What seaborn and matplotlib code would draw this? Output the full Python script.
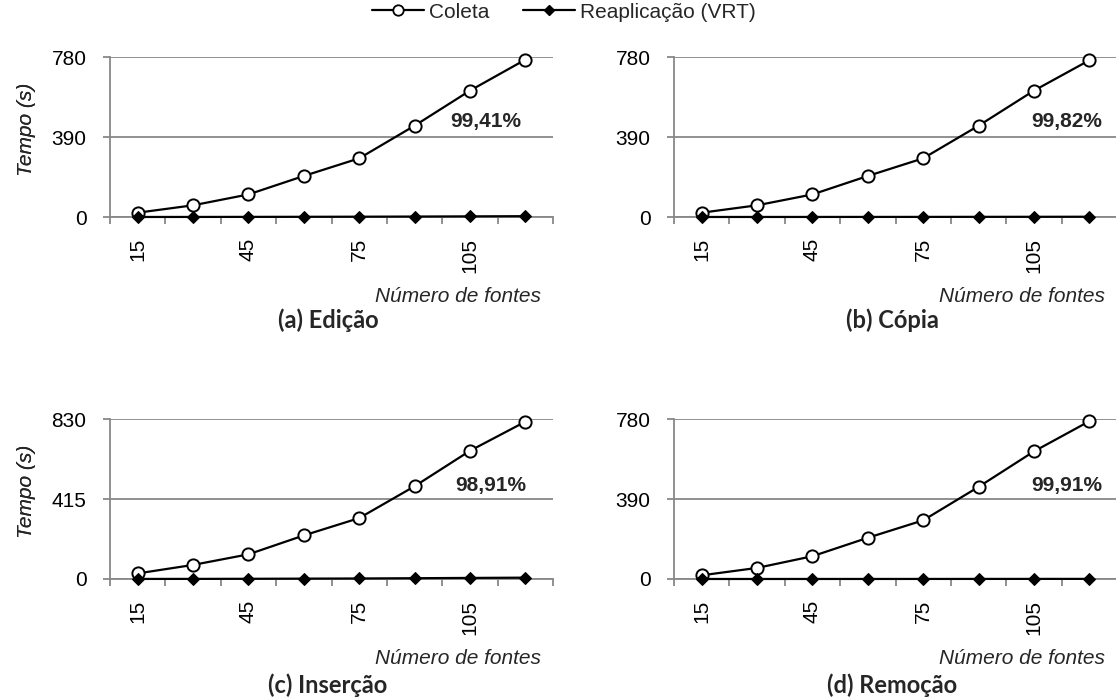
import matplotlib
matplotlib.use("Agg")
import matplotlib.pyplot as plt
import seaborn as sns
import pandas as pd
import numpy as np
from matplotlib.lines import Line2D

# number of sources on the x axis
fontes = [15, 30, 45, 60, 75, 90, 105, 120]

# time (s) per scenario
coleta_edicao = [21, 57, 110, 200, 286, 445, 616, 767]
vrt_edicao = [0.1, 0.3, 0.6, 1.0, 1.5, 2.2, 3.1, 4.0]
coleta_copia = [21, 57, 110, 200, 286, 445, 616, 764]
vrt_copia = [0.1, 0.2, 0.3, 0.4, 0.5, 0.8, 1.0, 1.3]
coleta_insercao = [29, 73, 128, 226, 316, 481, 665, 816]
vrt_insercao = [0.3, 0.6, 1.1, 1.9, 2.7, 4.1, 5.6, 7.0]
coleta_remocao = [18, 54, 111, 201, 286, 449, 622, 769]
vrt_remocao = [0.1, 0.1, 0.2, 0.2, 0.3, 0.4, 0.5, 0.6]

titulos = ["(a) Edição", "(b) Cópia", "(c) Inserção", "(d) Remoção"]
percentuais = ["99,41%", "99,82%", "98,91%", "99,91%"]
ymax = [780, 780, 830, 780]
rotulos_x = [15, 45, 75, 105]

sns.set_style("white")
plt.rcParams["font.family"] = ["Liberation Sans", "DejaVu Sans"]

GRID = "#888888"
FS = 15
W, H = 1116, 700
fig = plt.figure(figsize=(W / 100, H / 100), dpi=100)

# axes boxes in pixels: left, top, right, bottom
boxes = [(110, 57, 553, 217), (674, 57, 1117, 217),
         (110, 419, 553, 579), (674, 419, 1117, 579)]
title_pos = [(328, 320), (892, 320), (328, 685), (892, 685)]
pct_pos = [(486, 122), (1067, 122), (491, 485), (1067, 486)]

series = [(coleta_edicao, vrt_edicao), (coleta_copia, vrt_copia),
          (coleta_insercao, vrt_insercao), (coleta_remocao, vrt_remocao)]

for i, (l, t, r, b) in enumerate(boxes):
    ax = fig.add_axes([l / W, 1 - b / H, (r - l) / W, (b - t) / H])
    coleta, vrt = series[i]
    df = pd.DataFrame({"fontes": fontes, "coleta": coleta, "vrt": vrt})
    sns.lineplot(data=df, x="fontes", y="coleta", ax=ax, color="black",
                 linewidth=1.6, marker="o", markersize=8.8,
                 markerfacecolor="white", markeredgecolor="black",
                 markeredgewidth=1.4, clip_on=False, zorder=4)
    sns.lineplot(data=df, x="fontes", y="vrt", ax=ax, color="black",
                 linewidth=1.6, marker="D", markersize=6,
                 markerfacecolor="black", markeredgecolor="black",
                 clip_on=False, zorder=5)

    ax.set_xlim(7.5, 127.5)
    ax.set_ylim(0, ymax[i])
    ax.set_yticks([0, ymax[i] / 2, ymax[i]])
    ax.set_yticklabels([str(v) for v in [0, ymax[i] // 2, ymax[i]]])
    ax.set_xticks(rotulos_x)
    ax.set_xticklabels([str(v) for v in rotulos_x], rotation=90)
    ax.set_xticks(np.arange(7.5, 128, 15), minor=True)
    ax.tick_params(axis="x", which="major", length=0, pad=15,
                   labelsize=FS, colors="black")
    ax.tick_params(axis="x", which="minor", length=5, width=1.3,
                   color=GRID, direction="out", bottom=True)
    ax.tick_params(axis="y", length=5, width=1.3, color=GRID,
                   direction="out", left=True, pad=12, labelsize=FS,
                   labelcolor="black")
    ax.grid(axis="y", color=GRID, linewidth=1.3)
    ax.set_axisbelow(True)
    for s in ["top", "right"]:
        ax.spines[s].set_visible(False)
    for s in ["left", "bottom"]:
        ax.spines[s].set_color(GRID)
        ax.spines[s].set_linewidth(1.3)
    ax.set_xlabel("")
    ax.set_ylabel("Tempo (s)", fontsize=FS, style="italic")
    ax.yaxis.set_label_coords(-(l - 36) / (r - l), 0.55)

    fig.text((r - 12) / W, 1 - (b + 80) / H, "Número de fontes",
             ha="right", va="center", fontsize=FS, style="italic")
    fig.text(title_pos[i][0] / W, 1 - title_pos[i][1] / H, titulos[i],
             ha="center", va="center", fontsize=17, fontweight="bold",
             family=["Lato", "DejaVu Sans"])
    fig.text(pct_pos[i][0] / W, 1 - pct_pos[i][1] / H, percentuais[i],
             ha="center", va="center", fontsize=FS, fontweight="bold")

handles = [
    Line2D([], [], color="black", linewidth=1.6, marker="o", markersize=7.5,
           markerfacecolor="white", markeredgewidth=1.3, label="Coleta"),
    Line2D([], [], color="black", linewidth=1.6, marker="D", markersize=5.5,
           markerfacecolor="black", label="Reaplicação (VRT)"),
]
fig.legend(handles=handles, loc="center", bbox_to_anchor=(564 / W, 1 - 12 / H),
           ncol=2, frameon=False, fontsize=FS, handlelength=2.5,
           handletextpad=0.25, columnspacing=1.6, borderpad=0.1)

fig.savefig("out.png", dpi=100)
